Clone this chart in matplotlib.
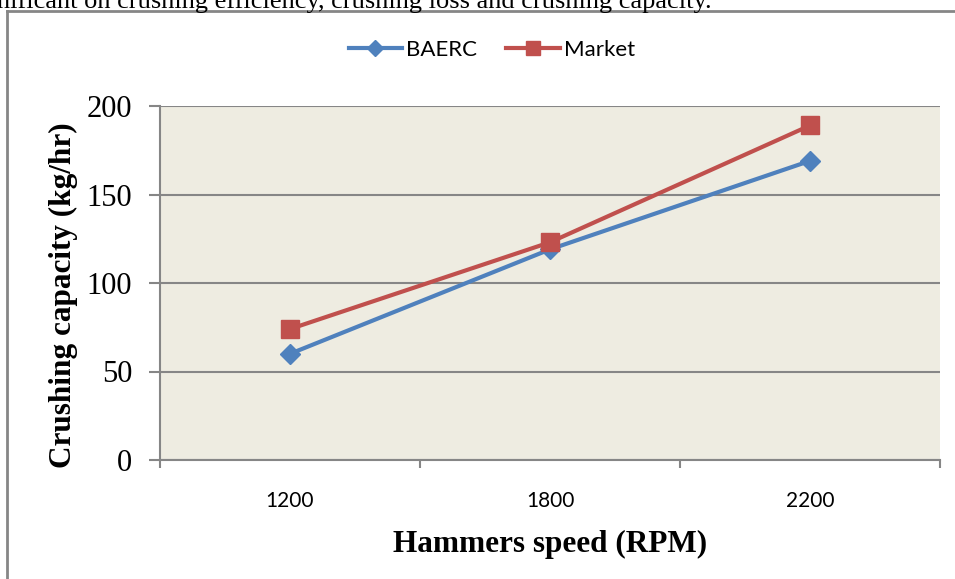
import matplotlib
matplotlib.use("Agg")
import matplotlib.pyplot as plt
from matplotlib.lines import Line2D

speeds = ["1200", "1800", "2200"]
baerc = [60, 119, 169]
market = [74, 123, 189]
y_ticks = [0, 50, 100, 150, 200]

serif = ["Liberation Serif", "DejaVu Serif"]
sans = ["Lato", "DejaVu Sans"]

fig = plt.figure(figsize=(9.55, 5.79), dpi=100)
ax = fig.add_axes([160 / 955, 119 / 579, 780 / 955, 354 / 579])
ax.set_facecolor("#EEECE1")

x = list(range(len(speeds)))
ax.plot(x, baerc, color="#4F81BD", lw=3, marker="D", ms=10,
        label="BAERC", zorder=3)
ax.plot(x, market, color="#C0504D", lw=3, marker="s", ms=13,
        label="Market", zorder=4)

ax.set_xlim(-0.5, 2.5)
ax.set_ylim(0, 200)
ax.set_yticks(y_ticks)
ax.set_yticklabels([str(v) for v in y_ticks], family=serif, fontsize=22)
ax.yaxis.grid(True, color="#868686", lw=1.5)
ax.set_axisbelow(True)

ax.set_xticks([-0.5, 0.5, 1.5, 2.5])
ax.set_xticklabels([])
ax.set_xticks(x, minor=True)
ax.set_xticklabels(speeds, minor=True, family=sans, fontsize=15)
ax.tick_params(axis="x", which="minor", length=0, pad=22)
ax.tick_params(axis="x", which="major", length=6, width=1.5, color="#868686")
ax.tick_params(axis="y", length=8, width=1.5, color="#868686", pad=12)

for side in ["top", "right"]:
    ax.spines[side].set_visible(False)
for side in ["left", "bottom"]:
    ax.spines[side].set_color("#868686")
    ax.spines[side].set_linewidth(1.5)

ax.set_ylabel("Crushing capacity (kg/hr)", family=serif, fontsize=22.5,
              fontweight="bold")
ax.yaxis.set_label_coords(-82 / 780, (460 - 295) / 354)
ax.set_xlabel("Hammers speed (RPM)", family=serif, fontsize=22.5,
              fontweight="bold", labelpad=14)

fig.legend(loc="center", bbox_to_anchor=(492 / 955, 1 - 50 / 579),
           ncol=2, frameon=False, prop={"family": sans, "size": 16},
           handlelength=2.4, columnspacing=1.3, handletextpad=0.2,
           markerscale=0.8)

# outer frame of the chart
fy = 1 - 11 / 579
fx = 7 / 955
fig.add_artist(Line2D([fx, fx], [0, fy], color="#868686", lw=2))
fig.add_artist(Line2D([fx, 1], [fy, fy], color="#868686", lw=2))

# cut-off line of text from the page above
fig.text(-0.003, 1 - 8 / 579, "nificant on crushing efficiency, crushing loss and crushing capacity.",
         family=serif, fontsize=19, va="baseline", ha="left")

fig.savefig("out.png", dpi=100)
